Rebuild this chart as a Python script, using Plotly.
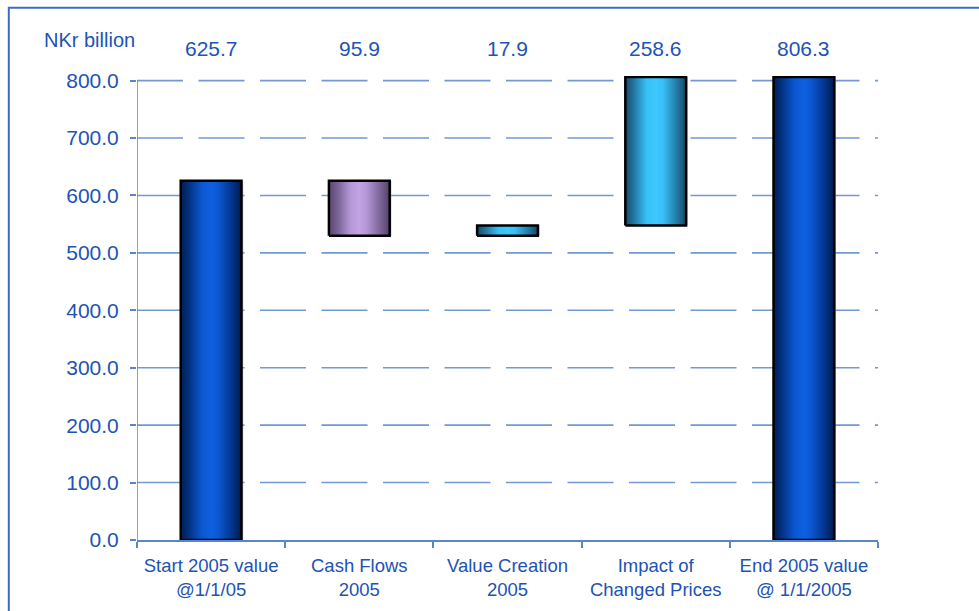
import plotly.graph_objects as go

# Categories of the 2005 value bridge (NKr billion)
categories = ["Start 2005 value<br>@1/1/05", "Cash Flows<br>2005", "Value Creation<br>2005",
              "Impact of<br>Changed Prices", "End 2005 value<br>@ 1/1/2005"]
changes = [625.7, -95.9, 17.9, 258.6, 806.3]
is_total = [True, False, False, False, True]
value_labels = ["625.7", "95.9", "17.9", "258.6", "806.3"]
y_ticks = [0, 100, 200, 300, 400, 500, 600, 700, 800]

TEXT = "#2153b5"
AXIS = "#5a84cc"
GRID = "#7398d6"
FONT = "Arial, Liberation Sans, sans-serif"
BAR_W = 0.41

# horizontal shading for each bar: dark edges, bright centre
blue = [[0, "#001d52"], [0.12, "#022f7c"], [0.35, "#0b57d2"], [0.5, "#0e60e0"],
        [0.62, "#0b57d2"], [0.85, "#03338a"], [1, "#001a4a"]]
purple = [[0, "#584670"], [0.15, "#7a6396"], [0.35, "#b497d6"], [0.5, "#c2a3e4"],
          [0.62, "#b497d6"], [0.85, "#7a6396"], [1, "#544368"]]
cyan = [[0, "#174a68"], [0.15, "#2379a5"], [0.35, "#39bff5"], [0.5, "#3dc8ff"],
        [0.62, "#39bff5"], [0.85, "#2379a5"], [1, "#164663"]]
scales = [blue, purple, cyan, cyan, blue]

# compute floating bases for the waterfall
bases, tops = [], []
running = 0.0
for c, tot in zip(changes, is_total):
    if tot:
        lo, hi = 0.0, c
        running = c
    else:
        start = running
        running = running + c
        lo, hi = min(start, running), max(start, running)
    bases.append(lo)
    tops.append(hi)

n = len(categories)
y_top = max(y_ticks)

fig = go.Figure()

# dashed horizontal grid, drawn left to right behind the bars
for t in y_ticks[1:]:
    fig.add_shape(type="line", xref="x", yref="y", x0=-0.5, x1=n - 0.5, y0=t, y1=t,
                  line=dict(color=GRID, width=1.6, dash="46px,15.5px"), layer="below")
# value axis line, ending at the top tick
fig.add_shape(type="line", xref="x", yref="y", x0=-0.5, x1=-0.5, y0=0, y1=y_top,
              line=dict(color=AXIS, width=1.5), layer="above")

for i, (lo, hi) in enumerate(zip(bases, tops)):
    x0, x1 = i - BAR_W / 2, i + BAR_W / 2
    # soft grey drop shadow
    fig.add_trace(go.Scatter(
        x=[x0 + 0.012, x1 + 0.012, x1 + 0.012, x0 + 0.012, x0 + 0.012],
        y=[lo, lo, hi, hi, lo], mode="lines", fill="toself",
        fillcolor="rgba(150,150,150,0.55)", line=dict(width=0),
        hoverinfo="skip", showlegend=False))
    fig.add_trace(go.Scatter(
        x=[x0, x1, x1, x0, x0], y=[lo, lo, hi, hi, lo],
        mode="lines", fill="toself",
        fillgradient=dict(type="horizontal", colorscale=scales[i]),
        line=dict(color="#000000", width=2.5),
        hoverinfo="skip", showlegend=False))
    fig.add_annotation(x=i, y=y_top, xref="x", yref="y", yshift=32, yanchor="middle",
                       text=value_labels[i], showarrow=False,
                       font=dict(size=21, color=TEXT, family=FONT))

fig.add_annotation(x=-0.0, y=y_top, xref="paper", yref="y", yshift=41,
                   xanchor="right", yanchor="middle", text="NKr billion", showarrow=False,
                   font=dict(size=20, color=TEXT, family=FONT))

# outer frame
fig.add_shape(type="rect", xref="paper", yref="paper",
              x0=-0.173, x1=1.2, y0=-0.25, y1=1.147,
              line=dict(color="#3d6dc0", width=2), fillcolor="rgba(0,0,0,0)", layer="below")

fig.update_layout(
    width=979, height=611,
    margin=dict(l=137, r=101, t=76, b=71),
    paper_bgcolor="white", plot_bgcolor="white",
    font=dict(family=FONT, color=TEXT),
    xaxis=dict(
        range=[-0.5, n - 0.5], tickmode="array", tickvals=list(range(n)),
        ticktext=categories, ticks="", showgrid=False, zeroline=False,
        showline=True, linecolor=AXIS, linewidth=1.5, ticklabelstandoff=8,
        tickfont=dict(size=18.5, color=TEXT, family=FONT),
        minor=dict(tickmode="array", tickvals=[k - 0.5 for k in range(n + 1)],
                   ticks="outside", ticklen=6, tickcolor=AXIS, tickwidth=1.5,
                   showgrid=False),
        fixedrange=True,
    ),
    yaxis=dict(
        range=[0, 808], tickmode="array", tickvals=y_ticks,
        tickformat=".1f", ticks="outside", ticklen=6, tickcolor=AXIS, tickwidth=1.5,
        showline=False, showgrid=False, zeroline=False, ticklabelstandoff=7,
        tickfont=dict(size=21, color=TEXT, family=FONT),
        fixedrange=True,
    ),
)

fig.write_html("out.html")
